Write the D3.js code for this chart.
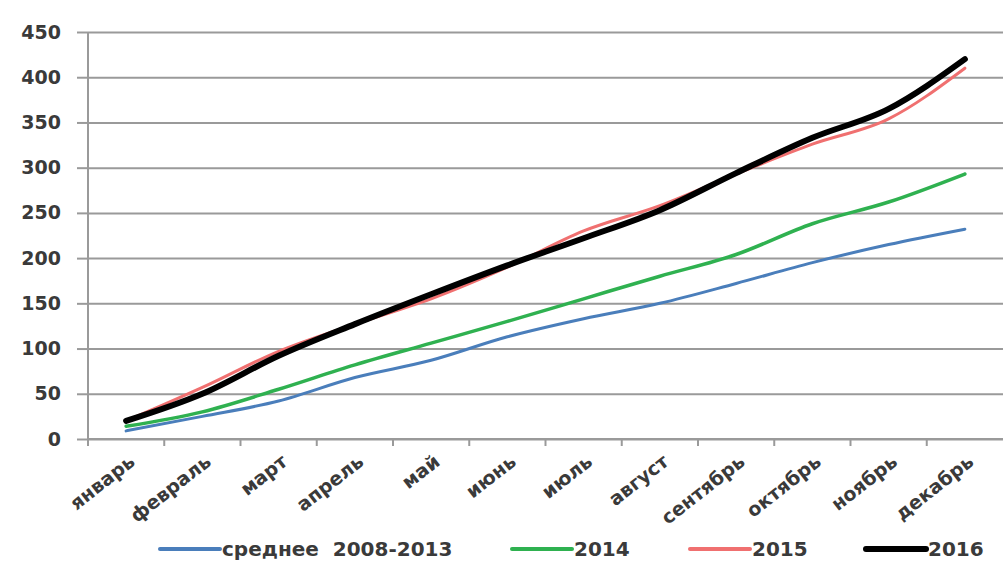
<!doctype html>
<html>
<head>
<meta charset="utf-8">
<style>
  body { margin: 0; background: #fff; }
  text { font-family: "DejaVu Sans", Verdana, sans-serif; fill: #3a3a3a; font-weight: bold; }
</style>
<script src="https://d3js.org/d3.v7.min.js"></script>
</head>
<body>
<svg width="1003" height="564"></svg>
<script>
var months = ["январь", "февраль", "март", "апрель", "май", "июнь", "июль", "август", "сентябрь", "октябрь", "ноябрь", "декабрь"];
var yTicks = [0, 50, 100, 150, 200, 250, 300, 350, 400, 450];

var avg0813 = [9, 25, 42, 68, 87, 113, 133, 150, 172, 195, 215, 232];
var y2014 = [14, 30, 55, 82, 106, 130, 155, 180, 204, 238, 262, 293];
var y2015 = [20, 57, 97, 127, 155, 190, 230, 258, 293, 326, 354, 410];
var y2016 = [20, 50, 92, 127, 160, 192, 222, 253, 294, 333, 365, 420];

var series = [
  { name: "среднее  2008-2013", values: avg0813, color: "#4a7ebb", width: 3 },
  { name: "2014", values: y2014, color: "#2fb150", width: 3.5 },
  { name: "2015", values: y2015, color: "#f07070", width: 3 },
  { name: "2016", values: y2016, color: "#000000", width: 6 }
];

var svg = d3.select("svg");
var plotLeft = 88, plotRight = 1003, plotTop = 32, plotBottom = 439;

var x = d3.scaleBand().domain(months).range([plotLeft, plotRight]);
var y = d3.scaleLinear().domain([0, 450]).range([plotBottom, plotTop]);

// gridlines + y axis
var yAxis = svg.append("g")
  .attr("transform", "translate(" + plotLeft + ",0)")
  .call(d3.axisLeft(y).tickValues(yTicks).tickSize(11).tickPadding(16));
yAxis.select(".domain").remove();
yAxis.selectAll(".tick line").attr("stroke", "#9a9a9a").attr("stroke-width", 2);
yAxis.selectAll(".tick").append("line")
  .attr("x1", 0).attr("x2", plotRight - plotLeft)
  .attr("stroke", "#9a9a9a").attr("stroke-width", 2);
yAxis.selectAll(".tick text")
  .style("font-size", "19px")
  .style("font-family", "'DejaVu Sans', sans-serif")
  .style("font-weight", "bold")
  .attr("fill", "#3a3a3a");

svg.append("line")
  .attr("x1", plotLeft).attr("x2", plotLeft).attr("y1", plotTop).attr("y2", plotBottom)
  .attr("stroke", "#9a9a9a").attr("stroke-width", 2);

// x axis with ticks between categories
var xg = svg.append("g").attr("transform", "translate(0," + plotBottom + ")");
xg.append("line").attr("x1", plotLeft).attr("x2", plotRight)
  .attr("stroke", "#9a9a9a").attr("stroke-width", 2);
xg.selectAll(".xt").data(months).enter().append("line")
  .attr("x1", function(d) { return x(d); }).attr("x2", function(d) { return x(d); })
  .attr("y1", 0).attr("y2", 7)
  .attr("stroke", "#9a9a9a").attr("stroke-width", 2);
xg.selectAll(".xl").data(months).enter().append("text")
  .attr("transform", function(d) {
    return "translate(" + (x(d) + x.bandwidth() / 2 + 10) + ",25) rotate(-38)";
  })
  .attr("text-anchor", "end")
  .style("font-size", "19px")
  .text(function(d) { return d; });

// lines
var line = d3.line()
  .x(function(d, i) { return x(months[i]) + x.bandwidth() / 2; })
  .y(function(d) { return y(d); })
  .curve(d3.curveMonotoneX);

svg.selectAll(".series").data(series).enter().append("path")
  .attr("fill", "none")
  .attr("stroke", function(d) { return d.color; })
  .attr("stroke-width", function(d) { return d.width; })
  .attr("stroke-linecap", "round")
  .attr("stroke-linejoin", "round")
  .attr("d", function(d) { return line(d.values); });

// legend
var legendX = [160, 512, 690, 866];
var lg = svg.selectAll(".legend").data(series).enter().append("g")
  .attr("transform", function(d, i) { return "translate(" + legendX[i] + ",549)"; });
lg.append("line").attr("x1", 0).attr("x2", 60)
  .attr("stroke", function(d) { return d.color; })
  .attr("stroke-width", function(d) { return d.width === 6 ? 6 : 4; })
  .attr("stroke-linecap", "round");
lg.append("text").attr("x", 62).attr("y", 7)
  .attr("xml:space", "preserve")
  .style("white-space", "pre")
  .style("font-size", "20px")
  .text(function(d) { return d.name; });
</script>
</body>
</html>
